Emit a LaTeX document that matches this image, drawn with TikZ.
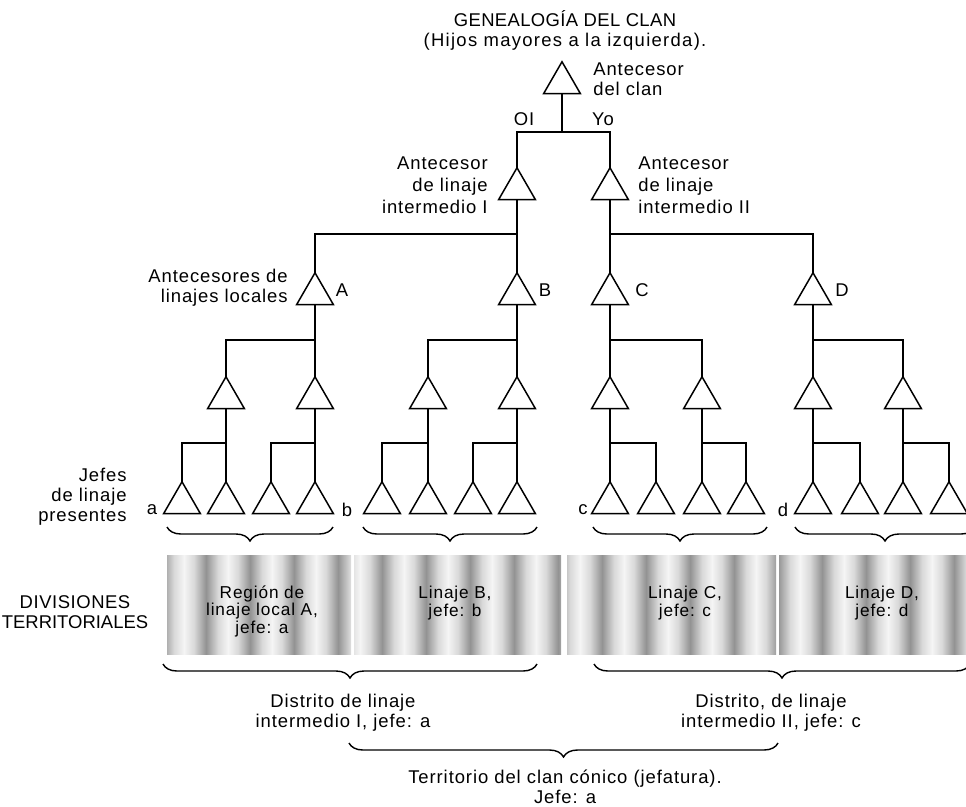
\documentclass[tikz,border=0pt]{standalone}
\usepackage{fontspec}
\setmainfont{Liberation Sans}[LetterSpace=5]
\usetikzlibrary{shapes.geometric,decorations.pathreplacing}
\begin{document}
\begin{tikzpicture}[x=0.02cm,y=-0.02cm,
  tri/.style={regular polygon,regular polygon sides=3,draw,line width=0.85pt,minimum size=0.85cm,inner sep=0pt,outer sep=0pt},
  link/.style={line width=0.75pt},
  txt/.style={inner sep=0pt,font=\fontsize{10.5}{12.5}\selectfont},
  txts/.style={inner sep=0pt,font=\fontsize{10.5}{11.3}\selectfont},
  reg/.style={inner sep=0pt,align=center,font=\fontsize{9.8}{10}\selectfont},
  brc/.style={decorate,decoration={brace,mirror,amplitude=0.28cm},line width=0.8pt}]
\useasboundingbox (0,0) rectangle (966,806);

% ---- shaded territorial divisions
\foreach \xa/\xb in {167/351,354/561,567/776,779/970}{
  \begin{scope}
    \clip (\xa,555) rectangle (\xb,654);
    \fill[gray!30] (\xa,555) rectangle (\xb,654);
    \foreach \s in {150,194,...,970}{
      \shade[left color=gray!30,right color=gray!85] (\s,555) rectangle (\s+12,654);
      \shade[left color=gray!85,right color=gray!30] (\s+12,555) rectangle (\s+24,654);
      \shade[left color=gray!30,right color=gray!8] (\s+24,555) rectangle (\s+34,654);
      \shade[left color=gray!8,right color=gray!30] (\s+34,555) rectangle (\s+44,654);
    }
  \end{scope}
}

% ---- triangles
\node[tri] (T) at (562,83) {};
\node[tri] (I) at (517,189) {};
\node[tri] (II) at (610,189) {};
\foreach \n/\x in {A/315,B/517,C/610,D/813}
  \node[tri] (\n) at (\x,294) {};
\foreach \n/\x in {A1/226,A2/315,B1/428,B2/517,C1/610,C2/702,D1/813,D2/903}
  \node[tri] (\n) at (\x,398) {};
\foreach \n/\x in {a1/182,a2/226,a3/271,a4/315,b1/382,b2/428,b3/473,b4/517,c1/610,c2/656,c3/702,c4/746,d1/813,d2/860,d3/903,d4/949}
  \node[tri] (\n) at (\x,503) {};

% ---- bars
\coordinate (bT) at (562,132);
\coordinate (bI) at (517,234);
\coordinate (bII) at (610,234);
\foreach \n/\x in {A/315,B/517,C/610,D/813}
  \coordinate (b\n) at (\x,340);
\foreach \n/\x in {A1/226,A2/315,B1/428,B2/517,C1/610,C2/702,D1/813,D2/903}
  \coordinate (b\n) at (\x,443);

% ---- connectors
\foreach \p/\l/\r in {T/I/II,I/A/B,II/C/D,A/A1/A2,B/B1/B2,C/C1/C2,D/D1/D2,
  A1/a1/a2,A2/a3/a4,B1/b1/b2,B2/b3/b4,C1/c1/c2,C2/c3/c4,D1/d1/d2,D2/d3/d4}{
  \draw[link] (\p.side 2) -- (b\p);
  \draw[link] (\l.corner 1) |- (b\p) -| (\r.corner 1);
}

% ---- texts
\node[txt] (title) at (565,19) {\addfontfeature{LetterSpace=2}GENEALOGÍA DEL CLAN};
\node[txt] (subtitle) at (565,42) {\addfontfeature{LetterSpace=7}(Hijos mayores a la izquierda).};
\node[txts,anchor=west,align=left] (lT) at (593,79) {Antecesor\\del clan};
\node[txt] (lOI) at (524,119) {OI};
\node[txt] (lYo) at (603,119) {Yo};
\node[txt,anchor=east,align=right] (lI) at (488,185) {Antecesor\\de linaje\\intermedio I};
\node[txt,anchor=west,align=left] (lII) at (638,185) {Antecesor\\de linaje\\intermedio II};
\node[txts,anchor=east,align=right] (lloc) at (288,288) {Antecesores de\\linajes locales};
\node[txt] (lA) at (342,290) {A};
\node[txt] (lB) at (545,290) {B};
\node[txt] (lC) at (642,290) {C};
\node[txt] (lD) at (842,290) {D};
\node[txts,anchor=east,align=right] (ljef) at (127,497) {Jefes\\de linaje\\presentes};
\node[txt] (la) at (152,510) {a};
\node[txt] (lb) at (347,510) {b};
\node[txt] (lc) at (583,510) {c};
\node[txt] (ld) at (783,510) {d};

% ---- braces under present chiefs
\draw[brc] (167,527) -- (333,527);
\draw[brc] (363,527) -- (537,527);
\draw[brc] (593,527) -- (767,527);
\draw[brc] (795,527) -- (975,527);

\node[txts,align=center] (ldiv) at (75,612) {\addfontfeature{LetterSpace=3}DIVISIONES\\\addfontfeature{LetterSpace=0}TERRITORIALES};
\node[reg] (rA) at (262,611) {Región de\\linaje local A,\\jefe: a};
\node[reg] (rB) at (455,603) {Linaje B,\\jefe: b};
\node[reg] (rC) at (685,603) {Linaje C,\\jefe: c};
\node[reg] (rD) at (882,603) {Linaje D,\\jefe: d};

% ---- lower braces
\draw[brc] (163,664) -- (537,664);
\draw[brc] (594,664) -- (970,664);
\draw[brc] (349,743) -- (778,743);

\node[txts,align=center] (dI) at (343,713) {Distrito de linaje\\intermedio I, jefe: a};
\node[txts,align=center] (dII) at (771,713) {Distrito, de linaje\\intermedio II, jefe: c};
\node[txts,align=center] (terr) at (565,787) {Territorio del clan cónico (jefatura).\\Jefe: a};
\end{tikzpicture}
\end{document}
